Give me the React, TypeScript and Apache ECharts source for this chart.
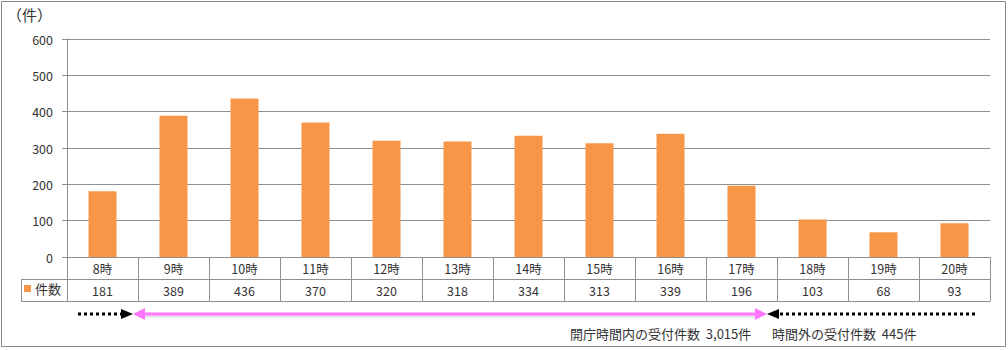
import React, { useEffect, useRef } from "react";
import * as echarts from "echarts";

const categories = ["8時", "9時", "10時", "11時", "12時", "13時", "14時", "15時", "16時", "17時", "18時", "19時", "20時"];
const counts = [181, 389, 436, 370, 320, 318, 334, 313, 339, 196, 103, 68, 93];
const yTicks = { min: 0, max: 600, interval: 100 };
const seriesName = "件数";
const unitLabel = "（件）";
const insideText = "開庁時間内の受付件数  3,015件";
const outsideText = "時間外の受付件数  445件";

const FONT = "'Noto Sans CJK JP', 'Noto Sans', sans-serif";
const LINE = "#8f8f8f";
const TXT = "#333333";

export default function App() {
  const ref = useRef<HTMLDivElement>(null);
  useEffect(() => {
    document.body.style.margin = "0";
    const chart = echarts.init(ref.current!, null, { renderer: "svg" });
    const arrowY = 314;
    const option: any = {
      animation: false,
      textStyle: { fontFamily: FONT },
      grid: { left: 67, right: 18, top: 39, bottom: 93, containLabel: false },
      legend: {
        data: [seriesName],
        left: 24,
        top: 282,
        icon: "rect",
        itemWidth: 7,
        itemHeight: 7,
        itemGap: 4,
        padding: 0,
        textStyle: { fontSize: 13, color: TXT, fontFamily: FONT, padding: [0, 0, 0, -1] },
      },
      xAxis: [
        {
          type: "category",
          data: categories,
          position: "bottom",
          axisLine: { show: true, lineStyle: { color: LINE, width: 1 } },
          axisTick: { show: true, length: 44, interval: 0, lineStyle: { color: LINE, width: 1 } },
          axisLabel: { interval: 0, margin: 5, fontSize: 12.5, color: TXT, fontFamily: FONT },
        },
        {
          type: "category",
          data: categories,
          position: "bottom",
          offset: 22,
          axisLine: { show: true, lineStyle: { color: LINE, width: 1 } },
          axisTick: { show: false },
          axisLabel: {
            interval: 0,
            margin: 5,
            fontSize: 12.5,
            color: TXT,
            fontFamily: FONT,
            formatter: (_v: string, i: number) => String(counts[i]),
          },
        },
        {
          type: "category",
          data: categories,
          position: "bottom",
          offset: 44,
          axisLine: { show: true, lineStyle: { color: LINE, width: 1 } },
          axisTick: { show: false },
          axisLabel: { show: false },
        },
      ],
      yAxis: {
        type: "value",
        min: yTicks.min,
        max: yTicks.max,
        interval: yTicks.interval,
        axisLine: { show: true, lineStyle: { color: LINE, width: 1 } },
        axisTick: { show: true, length: 5, lineStyle: { color: LINE } },
        axisLabel: { fontSize: 12.5, color: TXT, margin: 14, fontFamily: FONT },
        splitLine: { show: true, lineStyle: { color: LINE, width: 1 } },
      },
      series: [
        {
          name: seriesName,
          type: "bar",
          xAxisIndex: 0,
          data: counts,
          barWidth: 28,
          itemStyle: { color: "#F79646" },
        },
      ],
      graphic: [
        {
          type: "rect",
          shape: { x: 1.5, y: 1.5, width: 1004, height: 345 },
          style: { fill: "none", stroke: "#8a8a8a", lineWidth: 1 },
          silent: true,
        },
        {
          type: "text",
          left: 7,
          top: 7,
          style: { text: unitLabel, fontSize: 15, fill: TXT, fontFamily: FONT },
        },
        // table left part
        { type: "line", shape: { x1: 21, y1: 279.5, x2: 67, y2: 279.5 }, style: { stroke: LINE, lineWidth: 1 } },
        { type: "line", shape: { x1: 21, y1: 301.5, x2: 67, y2: 301.5 }, style: { stroke: LINE, lineWidth: 1 } },
        { type: "line", shape: { x1: 21.5, y1: 279, x2: 21.5, y2: 302 }, style: { stroke: LINE, lineWidth: 1 } },
        // shadows
        {
          type: "line",
          shape: { x1: 140, y1: arrowY + 2.5, x2: 760, y2: arrowY + 2.5 },
          style: { stroke: "rgba(0,0,0,0.12)", lineWidth: 2 },
        },
        // left black dotted arrow
        {
          type: "line",
          shape: { x1: 78, y1: arrowY, x2: 122, y2: arrowY },
          style: { stroke: "#000", lineWidth: 3, lineDash: [3, 3] },
        },
        {
          type: "polygon",
          shape: { points: [[121, arrowY - 5], [133, arrowY], [121, arrowY + 5]] },
          style: { fill: "#000" },
        },
        // pink arrow
        {
          type: "line",
          shape: { x1: 140, y1: arrowY, x2: 760, y2: arrowY },
          style: { stroke: "#FF77FF", lineWidth: 3 },
        },
        {
          type: "polygon",
          shape: { points: [[145, arrowY - 6], [133, arrowY], [145, arrowY + 6]] },
          style: { fill: "#FF77FF" },
        },
        {
          type: "polygon",
          shape: { points: [[755, arrowY - 6], [767, arrowY], [755, arrowY + 6]] },
          style: { fill: "#FF77FF" },
        },
        // right black dotted arrow
        {
          type: "polygon",
          shape: { points: [[779, arrowY - 5], [767, arrowY], [779, arrowY + 5]] },
          style: { fill: "#000" },
        },
        {
          type: "line",
          shape: { x1: 780, y1: arrowY, x2: 978, y2: arrowY },
          style: { stroke: "#000", lineWidth: 3, lineDash: [3, 3] },
        },
        {
          type: "text",
          left: 570,
          top: 327,
          style: { text: insideText, fontSize: 13, fill: TXT, fontFamily: FONT },
        },
        {
          type: "text",
          left: 772,
          top: 327,
          style: { text: outsideText, fontSize: 13, fill: TXT, fontFamily: FONT },
        },
      ],
    };
    chart.setOption(option);
    return () => chart.dispose();
  }, []);
  return <div ref={ref} style={{ width: 1008, height: 350 }} />;
}
